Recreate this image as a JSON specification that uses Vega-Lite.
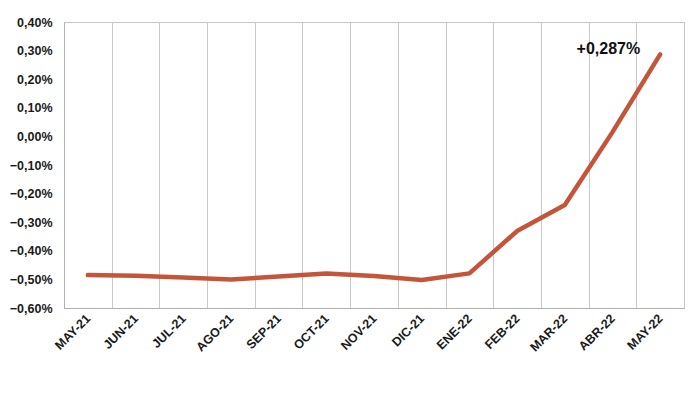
{
  "$schema": "https://vega.github.io/schema/vega-lite/v6.json",
  "width": 620,
  "height": 286,
  "autosize": {"type": "none"},
  "padding": {"left": 64, "top": 22, "right": 16, "bottom": 86},
  "background": "white",
  "config": {
    "locale": {"number": {"decimal": ",", "thousands": ".", "grouping": [3], "currency": ["", " €"]}},
    "view": {"stroke": "#c4c4c4", "strokeWidth": 1},
    "font": "Liberation Sans"
  },
  "data": {
    "values": [
      {"mes": "MAY-21", "valor": -0.00485},
      {"mes": "JUN-21", "valor": -0.00487},
      {"mes": "JUL-21", "valor": -0.00493},
      {"mes": "AGO-21", "valor": -0.00500},
      {"mes": "SEP-21", "valor": -0.00490},
      {"mes": "OCT-21", "valor": -0.00479},
      {"mes": "NOV-21", "valor": -0.00488},
      {"mes": "DIC-21", "valor": -0.00502},
      {"mes": "ENE-22", "valor": -0.00479},
      {"mes": "FEB-22", "valor": -0.00331},
      {"mes": "MAR-22", "valor": -0.00240},
      {"mes": "ABR-22", "valor": 0.00015},
      {"mes": "MAY-22", "valor": 0.00287, "etiqueta": "+0,287%"}
    ]
  },
  "encoding": {
    "x": {
      "field": "mes", "type": "ordinal", "sort": null,
      "scale": {"type": "band", "paddingInner": 0, "paddingOuter": 0},
      "axis": {
        "title": null, "tickBand": "extent", "grid": true, "gridColor": "#c8c8c8",
        "ticks": false, "domainColor": "#b0b0b0", "labelAngle": -45, "labelAlign": "right",
        "labelBaseline": "middle", "labelFontSize": 12.5, "labelFontWeight": "bold", "labelColor": "#1a1a1a", "labelPadding": 8
      }
    },
    "y": {
      "field": "valor", "type": "quantitative",
      "scale": {"domain": [-0.006, 0.004], "nice": false},
      "axis": {
        "title": null, "grid": false, "ticks": false, "domainColor": "#b0b0b0",
        "values": [-0.006, -0.005, -0.004, -0.003, -0.002, -0.001, 0, 0.001, 0.002, 0.003, 0.004],
        "format": ".2%", "labelFontSize": 12.5, "labelFontWeight": "bold", "labelColor": "#1a1a1a", "labelPadding": 12
      }
    }
  },
  "layer": [
    {"mark": {"type": "line", "color": "#C4553A", "strokeWidth": 4.5, "strokeCap": "round", "strokeJoin": "round"}},
    {
      "transform": [{"filter": "datum.etiqueta != null"}],
      "mark": {"type": "text", "align": "right", "baseline": "middle", "dx": -20, "dy": -5, "fontSize": 16, "fontWeight": "bold", "color": "#111"},
      "encoding": {"text": {"field": "etiqueta"}}
    }
  ]
}
